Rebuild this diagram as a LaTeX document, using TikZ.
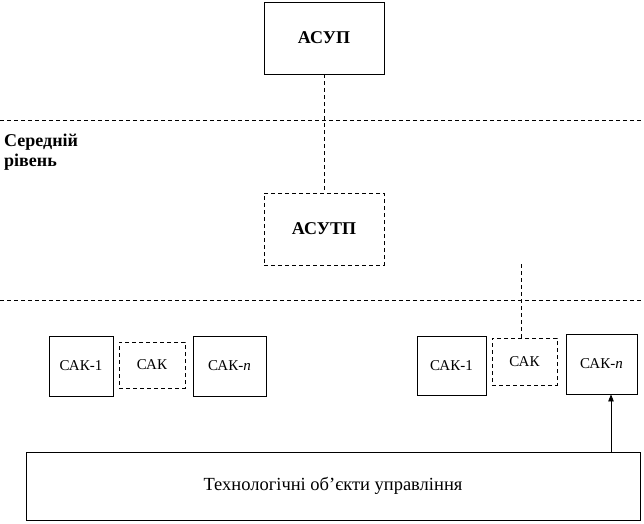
\documentclass[tikz,border=0pt]{standalone}
\usepackage{fontspec}
\setmainfont{Liberation Serif}
\usetikzlibrary{arrows.meta}

\tikzset{
  box/.style={draw, line width=0.8pt, inner sep=0pt, font=\fontsize{15}{17}\selectfont},
  dbox/.style={box, dash pattern=on 4pt off 3pt},
  dline/.style={line width=0.8pt, dash pattern=on 4pt off 3pt}
}

\begin{document}
\begin{tikzpicture}[x=1pt, y=-1pt]
\useasboundingbox (0,0) rectangle (644,523);

\node [box, minimum width=120pt, minimum height=72pt, font=\fontsize{18}{20}\selectfont\bfseries] (asup) at (324,38) {АСУП};
\node [dbox, minimum width=120pt, minimum height=72pt, font=\fontsize{18}{20}\selectfont\bfseries] (asutp) at (324,229) {АСУТП};

\draw [dline] (0,120) -- (644,120);
\draw [dline] (0,300) -- (644,300);

\node [anchor=north west, align=left, inner sep=0pt, font=\fontsize{18}{20}\selectfont\bfseries] (level) at (4,134) {Середній\\рівень};

\draw [dline] (asup) -- (asutp);

% left group
\node [box, minimum width=64pt, minimum height=60pt] (sak1L) at (81,366) {САК-1};
\node [dbox, minimum width=66pt, minimum height=46pt] (sakL) at (152,365) {САК};
\node [box, minimum width=73pt, minimum height=60pt] (saknL) at (229.5,366) {САК-\textit{n}};

% right group
\node [box, minimum width=69pt, minimum height=59pt] (sak1R) at (451.5,365.5) {САК-1};
\node [dbox, minimum width=65pt, minimum height=47pt] (sakR) at (524.5,361.5) {САК};
\node [box, minimum width=71pt, minimum height=60pt] (saknR) at (601.5,364) {САК-\textit{n}};

\coordinate (top) at (521,264);
\draw [dline] (top) -- (top |- sakR.north);

\node [box, minimum width=614pt, minimum height=68pt, font=\fontsize{18.5}{20}\selectfont] (obj) at (333,486) {Технологічні об’єкти управління};

\coordinate (in) at (611,452);
\draw [line width=0.8pt, -{Triangle[length=7pt,width=5.5pt]}] (in) -- (in |- saknR.south);

\end{tikzpicture}
\end{document}
